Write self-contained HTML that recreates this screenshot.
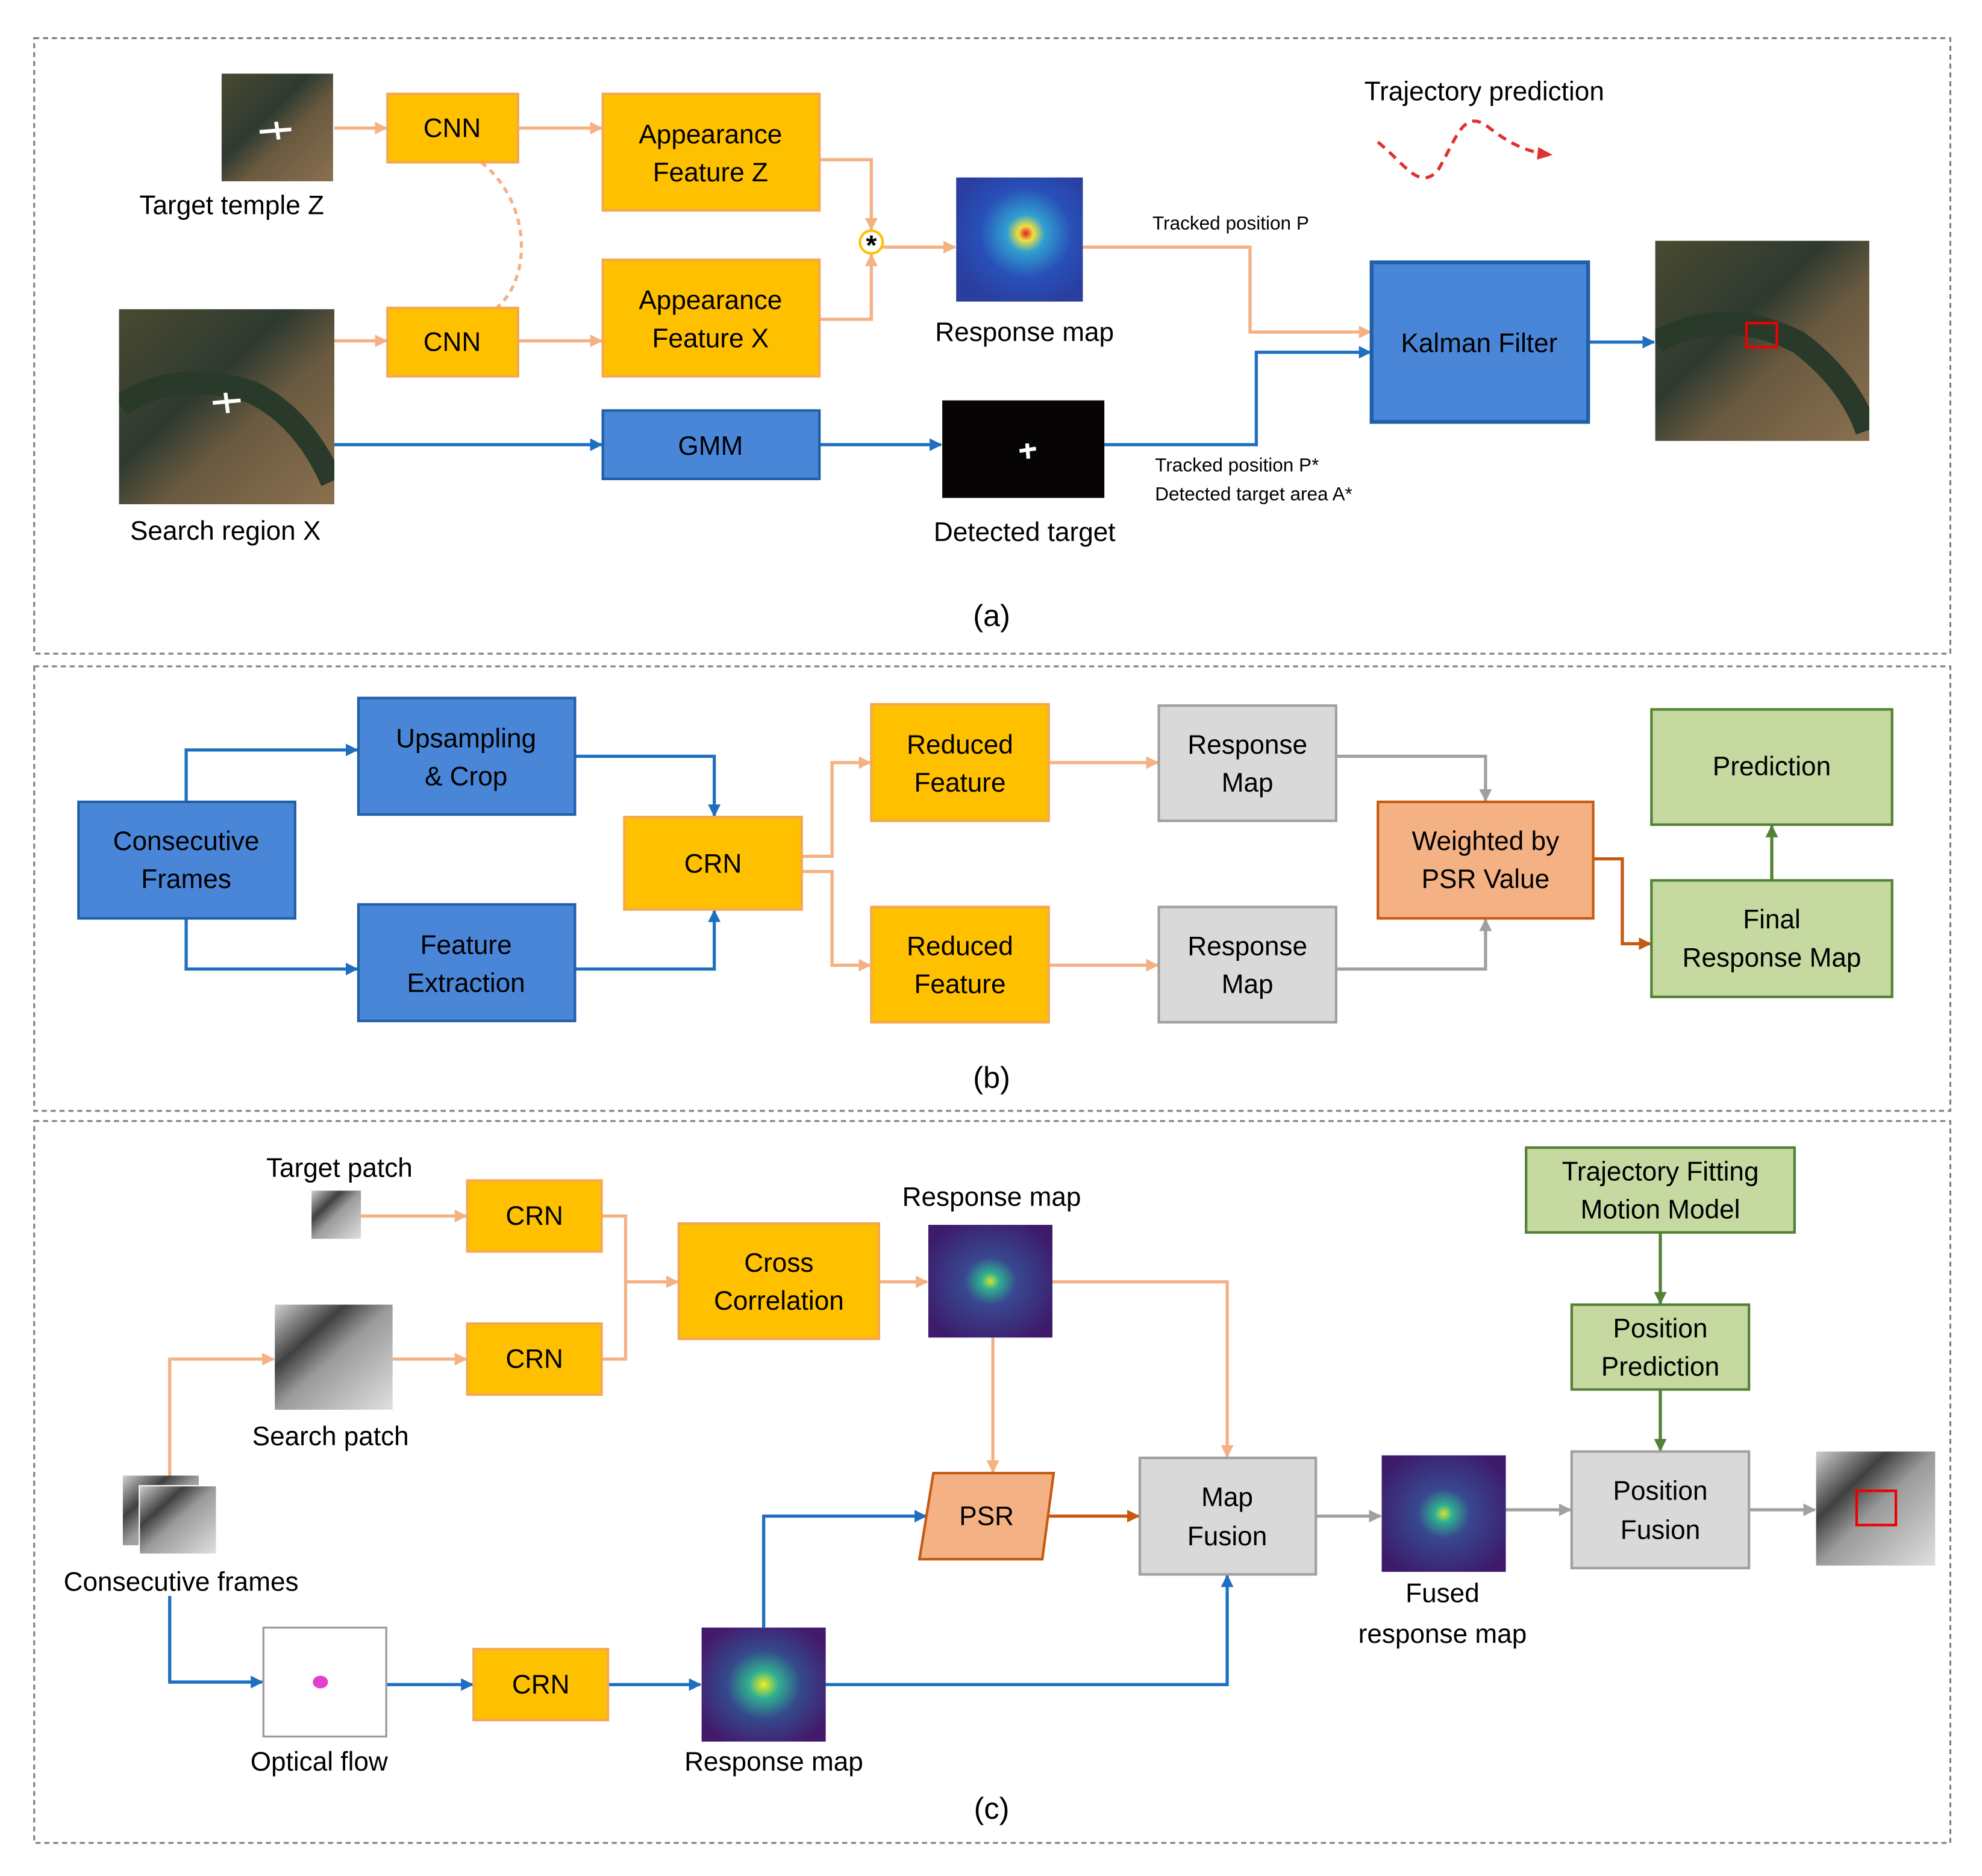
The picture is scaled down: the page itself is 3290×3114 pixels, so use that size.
<!DOCTYPE html>
<html><head><meta charset="utf-8"><style>
html,body{margin:0;padding:0;background:#fff;}
svg{display:block;}
text{font-family:"Liberation Sans",sans-serif;fill:#000;}
</style></head><body>
<svg width="3290" height="3114" viewBox="0 0 1565 1481" xmlns="http://www.w3.org/2000/svg">
<defs>
<marker id="ao" markerWidth="10" markerHeight="10" refX="9" refY="5" orient="auto" markerUnits="userSpaceOnUse"><path d="M0,0 L10,5 L0,10 z" fill="#F4B183"/></marker>
<marker id="ab" markerWidth="10" markerHeight="10" refX="9" refY="5" orient="auto" markerUnits="userSpaceOnUse"><path d="M0,0 L10,5 L0,10 z" fill="#1F6FC0"/></marker>
<marker id="ag" markerWidth="10" markerHeight="10" refX="9" refY="5" orient="auto" markerUnits="userSpaceOnUse"><path d="M0,0 L10,5 L0,10 z" fill="#A0A0A0"/></marker>
<marker id="ar" markerWidth="10" markerHeight="10" refX="9" refY="5" orient="auto" markerUnits="userSpaceOnUse"><path d="M0,0 L10,5 L0,10 z" fill="#C55A11"/></marker>
<marker id="an" markerWidth="10" markerHeight="10" refX="9" refY="5" orient="auto" markerUnits="userSpaceOnUse"><path d="M0,0 L10,5 L0,10 z" fill="#538135"/></marker>
<marker id="ad" markerWidth="12" markerHeight="10" refX="10" refY="5" orient="auto" markerUnits="userSpaceOnUse"><path d="M0,0 L12,5 L0,10 z" fill="#E03030"/></marker>
<radialGradient id="rm1" cx="0.55" cy="0.45" r="0.6"><stop offset="0" stop-color="#e02020"/><stop offset="0.1" stop-color="#f0e040"/><stop offset="0.25" stop-color="#30a0d0"/><stop offset="0.6" stop-color="#2850b8"/><stop offset="1" stop-color="#2a3ea0"/></radialGradient>
<radialGradient id="rmp" cx="0.5" cy="0.5" r="0.6"><stop offset="0" stop-color="#d8e030"/><stop offset="0.12" stop-color="#30b090"/><stop offset="0.35" stop-color="#384890"/><stop offset="1" stop-color="#3d1a6a"/></radialGradient>
<radialGradient id="rmp2" cx="0.5" cy="0.5" r="0.6"><stop offset="0" stop-color="#f0f020"/><stop offset="0.2" stop-color="#30b090"/><stop offset="0.5" stop-color="#344a8c"/><stop offset="1" stop-color="#44186a"/></radialGradient>
<linearGradient id="sat" x1="0" y1="0" x2="1" y2="1"><stop offset="0" stop-color="#4a4a30"/><stop offset="0.4" stop-color="#2e3a30"/><stop offset="0.6" stop-color="#6a5a40"/><stop offset="1" stop-color="#8a7050"/></linearGradient>
<linearGradient id="gry" x1="0" y1="0" x2="1" y2="1"><stop offset="0" stop-color="#cfcfcf"/><stop offset="0.3" stop-color="#404040"/><stop offset="0.5" stop-color="#9a9a9a"/><stop offset="1" stop-color="#e0e0e0"/></linearGradient>
<clipPath id="c1"><rect x="94" y="244" width="170" height="154"/></clipPath>
<clipPath id="c2"><rect x="1307" y="190" width="169" height="158"/></clipPath>
</defs>

<g fill="none" stroke="#808080" stroke-width="1.5" stroke-dasharray="4,3">
<rect x="27" y="30" width="1513" height="486"/>
<rect x="27" y="526" width="1513" height="351"/>
<rect x="27" y="885" width="1513" height="570"/>
</g>

<!-- Panel a -->
<rect x="175" y="58" width="88" height="85" fill="url(#sat)"/>
<path d="M205,104 L230,102 M218,96 L220,110" stroke="#fff" stroke-width="3"/>
<rect x="94" y="244" width="170" height="154" fill="url(#sat)"/>
<path d="M95,320 Q140,290 200,310 Q240,330 262,380" stroke="#2a3a2a" stroke-width="18" fill="none" clip-path="url(#c1)"/>
<path d="M168,318 L190,316 M178,310 L180,326" stroke="#fff" stroke-width="3"/>
<rect x="1307" y="190" width="169" height="158" fill="url(#sat)"/>
<path d="M1308,270 Q1360,240 1420,270 Q1460,300 1474,340" stroke="#2a3a2a" stroke-width="18" fill="none" clip-path="url(#c2)"/>
<rect x="1379" y="255" width="24" height="19" fill="none" stroke="#e00" stroke-width="2"/>
<text x="183" y="169" font-size="21" text-anchor="middle">Target temple Z</text>
<text x="178" y="426" font-size="21" text-anchor="middle">Search region X</text>

<g stroke="#F4B183" stroke-width="2.5" fill="none">
<line x1="264" y1="101" x2="305" y2="101" marker-end="url(#ao)"/>
<line x1="409" y1="101" x2="475" y2="101" marker-end="url(#ao)"/>
<line x1="264" y1="269" x2="305" y2="269" marker-end="url(#ao)"/>
<line x1="409" y1="269" x2="475" y2="269" marker-end="url(#ao)"/>
<path d="M647,126 L688,126 L688,181" marker-end="url(#ao)"/>
<path d="M647,252 L688,252 L688,201" marker-end="url(#ao)"/>
<line x1="697" y1="195" x2="754" y2="195" marker-end="url(#ao)"/>
<path d="M855,195 L987,195 L987,262 L1082,262" marker-end="url(#ao)"/>
<path d="M380,128 C420,160 420,220 392,243" stroke-dasharray="5,4"/>
</g>
<circle cx="688" cy="191" r="9" fill="#fff" stroke="#FFC000" stroke-width="2"/>
<text x="688" y="201" font-size="22" text-anchor="middle" font-weight="bold">*</text>

<g stroke="#1F6FC0" stroke-width="2.5" fill="none">
<line x1="264" y1="351" x2="475" y2="351" marker-end="url(#ab)"/>
<line x1="647" y1="351" x2="743" y2="351" marker-end="url(#ab)"/>
<path d="M872,351 L992,351 L992,278 L1082,278" marker-end="url(#ab)"/>
<line x1="1254" y1="270" x2="1306" y2="270" marker-end="url(#ab)"/>
</g>

<g stroke="#F4A850" stroke-width="2" fill="#FFC000">
<rect x="306" y="74" width="103" height="54"/>
<rect x="306" y="243" width="103" height="54"/>
<rect x="476" y="74" width="171" height="92"/>
<rect x="476" y="205" width="171" height="92"/>
</g>
<g font-size="21" text-anchor="middle">
<text x="357" y="108">CNN</text>
<text x="357" y="277">CNN</text>
<text x="561" y="113">Appearance</text><text x="561" y="143">Feature Z</text>
<text x="561" y="244">Appearance</text><text x="561" y="274">Feature X</text>
</g>
<rect x="476" y="324" width="171" height="54" fill="#4A86D8" stroke="#1F5FA8" stroke-width="2"/>
<text x="561" y="359" font-size="21" text-anchor="middle">GMM</text>
<rect x="1083" y="207" width="171" height="126" fill="#4A86D8" stroke="#1F5FA8" stroke-width="3"/>
<text x="1168" y="278" font-size="21" text-anchor="middle">Kalman Filter</text>

<rect x="755" y="140" width="100" height="98" fill="url(#rm1)"/>
<text x="809" y="269" font-size="21" text-anchor="middle">Response map</text>
<rect x="744" y="316" width="128" height="77" fill="#060404"/>
<path d="M805,356 L818,354 M811,350 L812,362" stroke="#fff" stroke-width="3"/>
<text x="809" y="427" font-size="21" text-anchor="middle">Detected target</text>
<text x="910" y="181" font-size="15">Tracked position P</text>
<text x="912" y="372" font-size="15">Tracked position P*</text>
<text x="912" y="395" font-size="15">Detected target area A*</text>
<text x="1172" y="79" font-size="21" text-anchor="middle">Trajectory prediction</text>
<path d="M1088,112 C1110,130 1120,150 1135,135 C1150,110 1155,85 1175,100 C1190,112 1205,120 1224,122" stroke="#E03030" stroke-width="2.5" fill="none" stroke-dasharray="7,5" marker-end="url(#ad)"/>
<text x="783" y="494" font-size="24" text-anchor="middle">(a)</text>

<!-- Panel b -->
<g stroke="#1F6FC0" stroke-width="2.5" fill="none">
<path d="M147,633 L147,592 L282,592" marker-end="url(#ab)"/>
<path d="M147,725 L147,765 L282,765" marker-end="url(#ab)"/>
<path d="M454,597 L564,597 L564,644" marker-end="url(#ab)"/>
<path d="M454,765 L564,765 L564,719" marker-end="url(#ab)"/>
</g>
<g stroke="#F4B183" stroke-width="2.5" fill="none">
<path d="M633,676 L657,676 L657,602 L687,602" marker-end="url(#ao)"/>
<path d="M633,688 L657,688 L657,762 L687,762" marker-end="url(#ao)"/>
<line x1="828" y1="602" x2="914" y2="602" marker-end="url(#ao)"/>
<line x1="828" y1="762" x2="914" y2="762" marker-end="url(#ao)"/>
</g>
<g stroke="#A0A0A0" stroke-width="2.5" fill="none">
<path d="M1055,597 L1173,597 L1173,632" marker-end="url(#ag)"/>
<path d="M1055,765 L1173,765 L1173,726" marker-end="url(#ag)"/>
</g>
<path d="M1258,678 L1281,678 L1281,745 L1303,745" stroke="#C55A11" stroke-width="2.5" fill="none" marker-end="url(#ar)"/>
<line x1="1399" y1="695" x2="1399" y2="652" stroke="#538135" stroke-width="2.5" marker-end="url(#an)"/>

<g fill="#4A86D8" stroke="#1F5FA8" stroke-width="2">
<rect x="62" y="633" width="171" height="92"/>
<rect x="283" y="551" width="171" height="92"/>
<rect x="283" y="714" width="171" height="92"/>
</g>
<g fill="#FFC000" stroke="#F4A850" stroke-width="2">
<rect x="493" y="645" width="140" height="73"/>
<rect x="688" y="556" width="140" height="92"/>
<rect x="688" y="716" width="140" height="91"/>
</g>
<g fill="#D9D9D9" stroke="#A0A0A0" stroke-width="2">
<rect x="915" y="557" width="140" height="91"/>
<rect x="915" y="716" width="140" height="91"/>
</g>
<rect x="1088" y="633" width="170" height="92" fill="#F4B183" stroke="#C55A11" stroke-width="2"/>
<g fill="#C5D9A0" stroke="#538135" stroke-width="2">
<rect x="1304" y="560" width="190" height="91"/>
<rect x="1304" y="695" width="190" height="92"/>
</g>
<g font-size="21" text-anchor="middle">
<text x="147" y="671">Consecutive</text><text x="147" y="701">Frames</text>
<text x="368" y="590">Upsampling</text><text x="368" y="620">&amp; Crop</text>
<text x="368" y="753">Feature</text><text x="368" y="783">Extraction</text>
<text x="563" y="689">CRN</text>
<text x="758" y="595">Reduced</text><text x="758" y="625">Feature</text>
<text x="758" y="754">Reduced</text><text x="758" y="784">Feature</text>
<text x="985" y="595">Response</text><text x="985" y="625">Map</text>
<text x="985" y="754">Response</text><text x="985" y="784">Map</text>
<text x="1173" y="671">Weighted by</text><text x="1173" y="701">PSR Value</text>
<text x="1399" y="612">Prediction</text>
<text x="1399" y="733">Final</text><text x="1399" y="763">Response Map</text>
</g>
<text x="783" y="859" font-size="24" text-anchor="middle">(b)</text>

<!-- Panel c -->
<g stroke="#F4B183" stroke-width="2.5" fill="none">
<line x1="285" y1="960" x2="368" y2="960" marker-end="url(#ao)"/>
<path d="M475,960 L494,960 L494,1073 L475,1073"/>
<line x1="494" y1="1012" x2="535" y2="1012" marker-end="url(#ao)"/>
<line x1="310" y1="1073" x2="368" y2="1073" marker-end="url(#ao)"/>
<path d="M134,1165 L134,1073 L216,1073" marker-end="url(#ao)"/>
<line x1="694" y1="1012" x2="732" y2="1012" marker-end="url(#ao)"/>
<path d="M831,1012 L969,1012 L969,1150" marker-end="url(#ao)"/>
<line x1="784" y1="1056" x2="784" y2="1162" marker-end="url(#ao)"/>
</g>
<g stroke="#1F6FC0" stroke-width="2.5" fill="none">
<path d="M134,1260 L134,1328 L207,1328" marker-end="url(#ab)"/>
<line x1="305" y1="1330" x2="373" y2="1330" marker-end="url(#ab)"/>
<line x1="480" y1="1330" x2="553" y2="1330" marker-end="url(#ab)"/>
<path d="M603,1285 L603,1197 L731,1197" marker-end="url(#ab)"/>
<path d="M652,1330 L969,1330 L969,1244" marker-end="url(#ab)"/>
</g>
<line x1="828" y1="1197" x2="899" y2="1197" stroke="#C55A11" stroke-width="2.5" marker-end="url(#ar)"/>
<g stroke="#A0A0A0" stroke-width="2.5" fill="none">
<line x1="1039" y1="1197" x2="1090" y2="1197" marker-end="url(#ag)"/>
<line x1="1189" y1="1192" x2="1240" y2="1192" marker-end="url(#ag)"/>
<line x1="1381" y1="1192" x2="1433" y2="1192" marker-end="url(#ag)"/>
</g>
<g stroke="#538135" stroke-width="2.5">
<line x1="1311" y1="973" x2="1311" y2="1029" marker-end="url(#an)"/>
<line x1="1311" y1="1097" x2="1311" y2="1145" marker-end="url(#an)"/>
</g>

<rect x="246" y="940" width="39" height="38" fill="url(#gry)"/>
<rect x="217" y="1030" width="93" height="83" fill="url(#gry)"/>
<rect x="97" y="1165" width="60" height="55" fill="url(#gry)"/>
<rect x="110" y="1173" width="61" height="54" fill="url(#gry)" stroke="#fff" stroke-width="1"/>
<rect x="208" y="1285" width="97" height="86" fill="#fff" stroke="#999" stroke-width="1.5"/>
<ellipse cx="253" cy="1328" rx="6" ry="5" fill="#e040d0"/>
<rect x="733" y="967" width="98" height="89" fill="url(#rmp)"/>
<rect x="554" y="1285" width="98" height="90" fill="url(#rmp2)"/>
<rect x="1091" y="1149" width="98" height="92" fill="url(#rmp)"/>
<rect x="1434" y="1146" width="94" height="90" fill="url(#gry)"/>
<rect x="1466" y="1177" width="31" height="27" fill="none" stroke="#e00" stroke-width="2"/>

<g fill="#FFC000" stroke="#F4A850" stroke-width="2">
<rect x="369" y="932" width="106" height="56"/>
<rect x="369" y="1045" width="106" height="56"/>
<rect x="374" y="1302" width="106" height="56"/>
<rect x="536" y="966" width="158" height="91"/>
</g>
<polygon points="737,1163 832,1163 823,1231 726,1231" fill="#F4B183" stroke="#C55A11" stroke-width="2"/>
<g fill="#D9D9D9" stroke="#A0A0A0" stroke-width="2">
<rect x="900" y="1151" width="139" height="92"/>
<rect x="1241" y="1146" width="140" height="92"/>
</g>
<g fill="#C5D9A0" stroke="#538135" stroke-width="2">
<rect x="1205" y="906" width="212" height="67"/>
<rect x="1241" y="1030" width="140" height="67"/>
</g>
<g font-size="21" text-anchor="middle">
<text x="268" y="929">Target patch</text>
<text x="422" y="967">CRN</text>
<text x="422" y="1080">CRN</text>
<text x="427" y="1337">CRN</text>
<text x="615" y="1004">Cross</text><text x="615" y="1034">Correlation</text>
<text x="783" y="952">Response map</text>
<text x="261" y="1141">Search patch</text>
<text x="143" y="1256">Consecutive frames</text>
<text x="252" y="1398">Optical flow</text>
<text x="611" y="1398">Response map</text>
<text x="779" y="1204">PSR</text>
<text x="969" y="1189">Map</text><text x="969" y="1220">Fusion</text>
<text x="1139" y="1265">Fused</text><text x="1139" y="1297">response map</text>
<text x="1311" y="1184">Position</text><text x="1311" y="1215">Fusion</text>
<text x="1311" y="932">Trajectory Fitting</text><text x="1311" y="962">Motion Model</text>
<text x="1311" y="1056">Position</text><text x="1311" y="1086">Prediction</text>
</g>
<text x="783" y="1436" font-size="24" text-anchor="middle">(c)</text>
</svg>
</body></html>
